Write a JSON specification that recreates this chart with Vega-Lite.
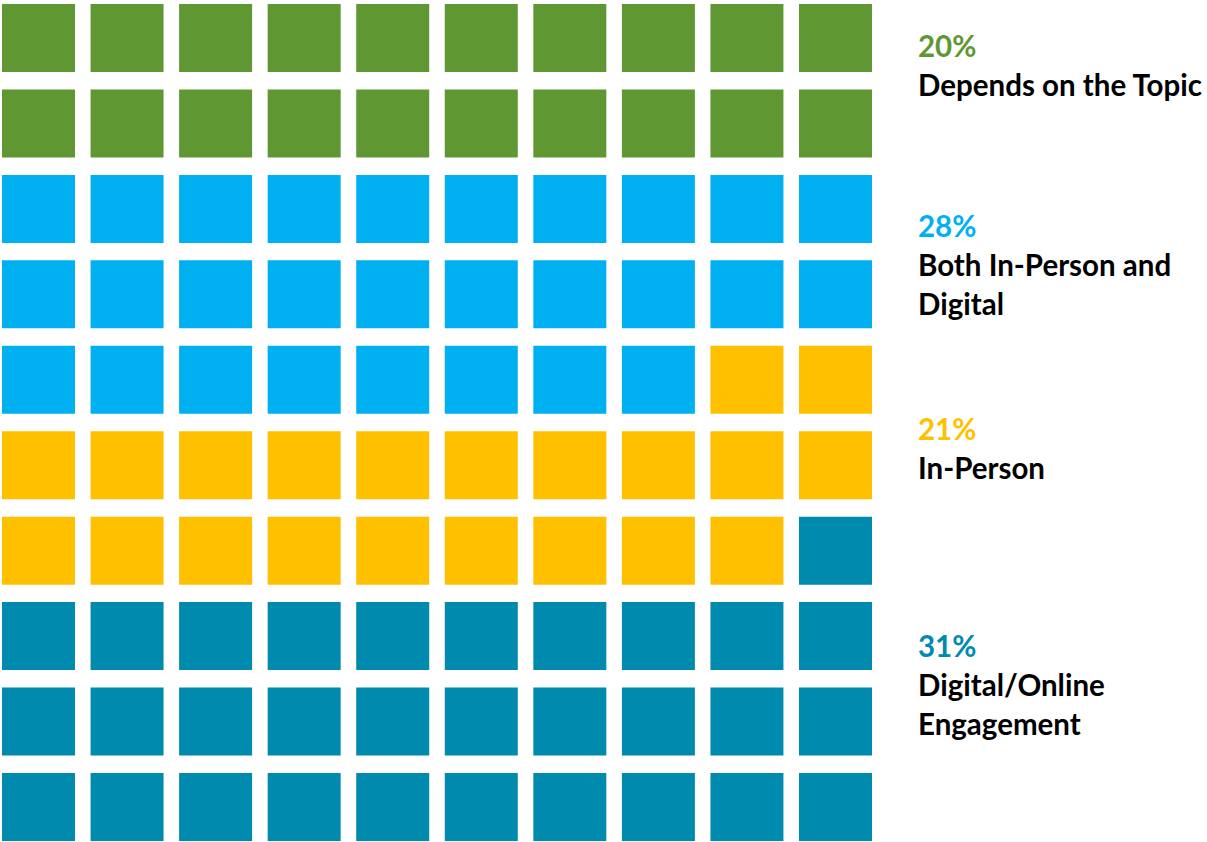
{
  "$schema": "https://vega.github.io/schema/vega-lite/v6.json",
  "padding": {"left": 2, "top": 4, "right": 0, "bottom": 0},
  "background": "white",
  "config": {"view": {"stroke": null}, "concat": {"spacing": 45}},
  "datasets": {
    "cells": [
      {"row":1,"col":1,"cat":"Depends on the Topic"},{"row":1,"col":2,"cat":"Depends on the Topic"},{"row":1,"col":3,"cat":"Depends on the Topic"},{"row":1,"col":4,"cat":"Depends on the Topic"},{"row":1,"col":5,"cat":"Depends on the Topic"},{"row":1,"col":6,"cat":"Depends on the Topic"},{"row":1,"col":7,"cat":"Depends on the Topic"},{"row":1,"col":8,"cat":"Depends on the Topic"},{"row":1,"col":9,"cat":"Depends on the Topic"},{"row":1,"col":10,"cat":"Depends on the Topic"},
      {"row":2,"col":1,"cat":"Depends on the Topic"},{"row":2,"col":2,"cat":"Depends on the Topic"},{"row":2,"col":3,"cat":"Depends on the Topic"},{"row":2,"col":4,"cat":"Depends on the Topic"},{"row":2,"col":5,"cat":"Depends on the Topic"},{"row":2,"col":6,"cat":"Depends on the Topic"},{"row":2,"col":7,"cat":"Depends on the Topic"},{"row":2,"col":8,"cat":"Depends on the Topic"},{"row":2,"col":9,"cat":"Depends on the Topic"},{"row":2,"col":10,"cat":"Depends on the Topic"},
      {"row":3,"col":1,"cat":"Both"},{"row":3,"col":2,"cat":"Both"},{"row":3,"col":3,"cat":"Both"},{"row":3,"col":4,"cat":"Both"},{"row":3,"col":5,"cat":"Both"},{"row":3,"col":6,"cat":"Both"},{"row":3,"col":7,"cat":"Both"},{"row":3,"col":8,"cat":"Both"},{"row":3,"col":9,"cat":"Both"},{"row":3,"col":10,"cat":"Both"},
      {"row":4,"col":1,"cat":"Both"},{"row":4,"col":2,"cat":"Both"},{"row":4,"col":3,"cat":"Both"},{"row":4,"col":4,"cat":"Both"},{"row":4,"col":5,"cat":"Both"},{"row":4,"col":6,"cat":"Both"},{"row":4,"col":7,"cat":"Both"},{"row":4,"col":8,"cat":"Both"},{"row":4,"col":9,"cat":"Both"},{"row":4,"col":10,"cat":"Both"},
      {"row":5,"col":1,"cat":"Both"},{"row":5,"col":2,"cat":"Both"},{"row":5,"col":3,"cat":"Both"},{"row":5,"col":4,"cat":"Both"},{"row":5,"col":5,"cat":"Both"},{"row":5,"col":6,"cat":"Both"},{"row":5,"col":7,"cat":"Both"},{"row":5,"col":8,"cat":"Both"},{"row":5,"col":9,"cat":"In-Person"},{"row":5,"col":10,"cat":"In-Person"},
      {"row":6,"col":1,"cat":"In-Person"},{"row":6,"col":2,"cat":"In-Person"},{"row":6,"col":3,"cat":"In-Person"},{"row":6,"col":4,"cat":"In-Person"},{"row":6,"col":5,"cat":"In-Person"},{"row":6,"col":6,"cat":"In-Person"},{"row":6,"col":7,"cat":"In-Person"},{"row":6,"col":8,"cat":"In-Person"},{"row":6,"col":9,"cat":"In-Person"},{"row":6,"col":10,"cat":"In-Person"},
      {"row":7,"col":1,"cat":"In-Person"},{"row":7,"col":2,"cat":"In-Person"},{"row":7,"col":3,"cat":"In-Person"},{"row":7,"col":4,"cat":"In-Person"},{"row":7,"col":5,"cat":"In-Person"},{"row":7,"col":6,"cat":"In-Person"},{"row":7,"col":7,"cat":"In-Person"},{"row":7,"col":8,"cat":"In-Person"},{"row":7,"col":9,"cat":"In-Person"},{"row":7,"col":10,"cat":"Digital"},
      {"row":8,"col":1,"cat":"Digital"},{"row":8,"col":2,"cat":"Digital"},{"row":8,"col":3,"cat":"Digital"},{"row":8,"col":4,"cat":"Digital"},{"row":8,"col":5,"cat":"Digital"},{"row":8,"col":6,"cat":"Digital"},{"row":8,"col":7,"cat":"Digital"},{"row":8,"col":8,"cat":"Digital"},{"row":8,"col":9,"cat":"Digital"},{"row":8,"col":10,"cat":"Digital"},
      {"row":9,"col":1,"cat":"Digital"},{"row":9,"col":2,"cat":"Digital"},{"row":9,"col":3,"cat":"Digital"},{"row":9,"col":4,"cat":"Digital"},{"row":9,"col":5,"cat":"Digital"},{"row":9,"col":6,"cat":"Digital"},{"row":9,"col":7,"cat":"Digital"},{"row":9,"col":8,"cat":"Digital"},{"row":9,"col":9,"cat":"Digital"},{"row":9,"col":10,"cat":"Digital"},
      {"row":10,"col":1,"cat":"Digital"},{"row":10,"col":2,"cat":"Digital"},{"row":10,"col":3,"cat":"Digital"},{"row":10,"col":4,"cat":"Digital"},{"row":10,"col":5,"cat":"Digital"},{"row":10,"col":6,"cat":"Digital"},{"row":10,"col":7,"cat":"Digital"},{"row":10,"col":8,"cat":"Digital"},{"row":10,"col":9,"cat":"Digital"},{"row":10,"col":10,"cat":"Digital"}
    ],
    "labels": [
      {"cat":"Depends on the Topic","pct":"20%","label":"Depends on the Topic","pos":6.35},
      {"cat":"Both","pct":"28%","label":"Both In-Person and\nDigital","pos":27.85},
      {"cat":"In-Person","pct":"21%","label":"In-Person","pos":52.15},
      {"cat":"Digital","pct":"31%","label":"Digital/Online\nEngagement","pos":78.05}
    ]
  },
  "hconcat": [
    {
      "width": 870,
      "height": 837,
      "data": {"name": "cells"},
      "mark": {"type": "rect"},
      "encoding": {
        "x": {"field": "col", "type": "ordinal", "axis": null, "scale": {"paddingInner": 0.1757, "paddingOuter": 0}},
        "y": {"field": "row", "type": "ordinal", "axis": null, "scale": {"paddingInner": 0.204, "paddingOuter": 0}},
        "color": {"field": "cat", "type": "nominal", "legend": null,
          "scale": {"domain": ["Depends on the Topic", "Both", "In-Person", "Digital"], "range": ["#5F9833", "#00B0F0", "#FFC000", "#008AAE"]}}
      }
    },
    {
      "width": 290,
      "height": 837,
      "data": {"name": "labels"},
      "encoding": {
        "y": {"field": "pos", "type": "quantitative", "axis": null, "scale": {"domain": [0, 100], "reverse": true, "nice": false, "zero": false}}
      },
      "layer": [
        {
          "mark": {"type": "text", "align": "left", "baseline": "alphabetic", "font": "Lato", "fontWeight": "bold", "fontSize": 29.5},
          "encoding": {
            "x": {"value": 0},
            "text": {"field": "pct"},
            "color": {"field": "cat", "type": "nominal", "legend": null,
              "scale": {"domain": ["Depends on the Topic", "Both", "In-Person", "Digital"], "range": ["#5F9833", "#00B0F0", "#FFC000", "#008AAE"]}}
          }
        },
        {
          "mark": {"type": "text", "align": "left", "baseline": "alphabetic", "font": "Lato", "fontWeight": "bold", "fontSize": 29.5, "dy": 39, "lineHeight": 38.5, "lineBreak": "\n", "color": "#000000"},
          "encoding": {
            "x": {"value": 0},
            "text": {"field": "label"}
          }
        }
      ]
    }
  ]
}
